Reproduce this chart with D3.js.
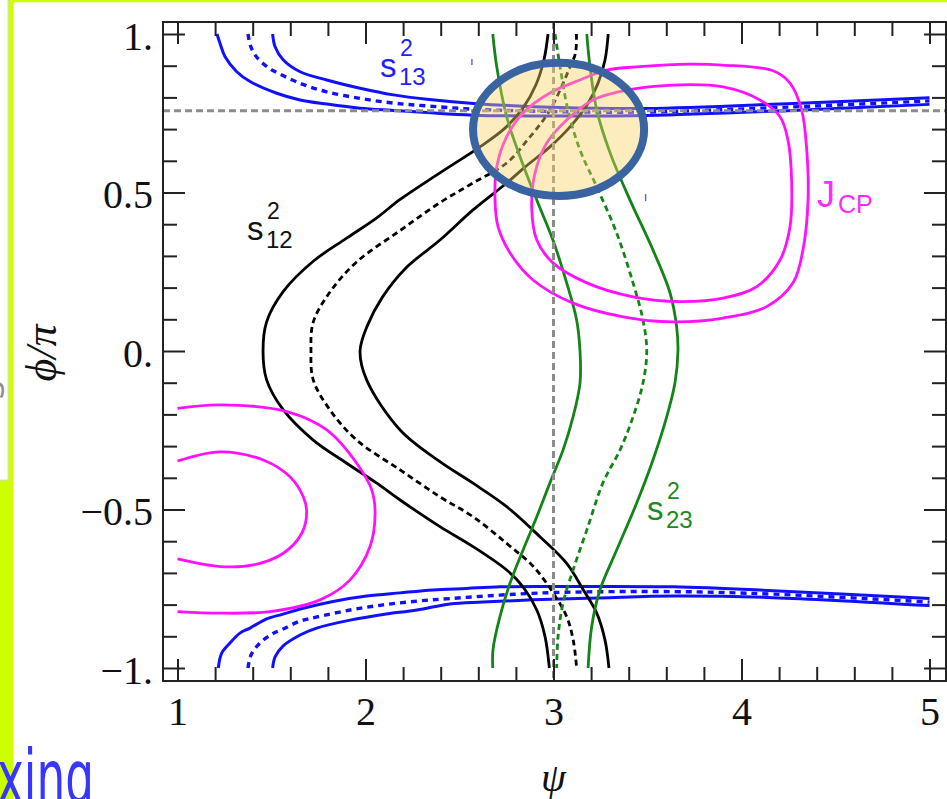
<!DOCTYPE html>
<html>
<head>
<meta charset="utf-8">
<script src="https://cdn.jsdelivr.net/npm/d3@7"></script>
<style>
  html, body { margin: 0; padding: 0; background: #fff; }
  svg { display: block; }
</style>
</head>
<body>
<svg id="chart" width="947" height="799"></svg>
<script>
// ---- axis ticks ----
const psiTicks = [1, 2, 3, 4, 5];
const psiTickLabels = ["1", "2", "3", "4", "5"];
const phiTicks = [-1, -0.5, 0, 0.5, 1];
const phiTickLabels = ["\u22121.", "\u22120.5", "0.", "0.5", "1."];

// reference point (dashed cross-hair)
const refPsi = 3.0;
const refPhi = 0.758;

// highlighted region: centre and half-axes in (psi, phi/pi)
const highlight = { psi: 3.027, phi: 0.699, dpsi: 0.455, dphi: 0.21 };

// ---- s13^2 contours (blue): [psi, phi/pi] ----
const s13TopLow = [[1.21,1.0],[1.226,0.971],[1.253,0.928],[1.315,0.881],[1.386,0.85],[1.528,0.813],[1.652,0.792],[1.795,0.779],[1.971,0.766],[2.146,0.759],[2.326,0.752],[2.572,0.744],[3.035,0.741],[3.497,0.743],[4.274,0.759],[5.0,0.778]];
const s13TopMid = [[1.375,1.0],[1.39,0.96],[1.42,0.928],[1.48,0.895],[1.53,0.878],[1.65,0.845],[1.79,0.818],[1.97,0.797],[2.15,0.782],[2.33,0.773],[2.57,0.763],[3.035,0.755],[3.497,0.754],[4.274,0.77],[5.0,0.789]];
const s13TopHigh = [[1.506,1.0],[1.519,0.96],[1.563,0.918],[1.652,0.881],[1.794,0.855],[1.971,0.829],[2.148,0.808],[2.327,0.794],[2.574,0.781],[3.035,0.768],[3.497,0.765],[4.274,0.781],[5.0,0.799]];
const s13BotHigh = [[1.217,-1.0],[1.235,-0.953],[1.279,-0.921],[1.332,-0.89],[1.386,-0.874],[1.474,-0.845],[1.561,-0.83],[1.652,-0.814],[1.827,-0.79],[2.006,-0.773],[2.184,-0.763],[2.359,-0.754],[2.538,-0.749],[2.715,-0.744],[3.003,-0.743],[3.636,-0.744],[4.168,-0.756],[5.0,-0.781]];
const s13BotMid = [[1.375,-1.0],[1.391,-0.959],[1.439,-0.921],[1.503,-0.893],[1.561,-0.877],[1.652,-0.852],[1.742,-0.839],[1.918,-0.817],[2.093,-0.801],[2.274,-0.789],[2.449,-0.781],[2.715,-0.77],[3.003,-0.762],[3.636,-0.759],[4.168,-0.767],[5.0,-0.792]];
const s13BotLow = [[1.506,-1.0],[1.519,-0.965],[1.561,-0.931],[1.652,-0.896],[1.74,-0.874],[1.918,-0.849],[2.093,-0.831],[2.274,-0.817],[2.449,-0.798],[2.625,-0.792],[2.891,-0.785],[3.247,-0.779],[3.636,-0.773],[4.168,-0.778],[5.0,-0.803]];

// ---- s12^2 contours (black) ----
const s12Outer = [[2.971,1.0],[2.949,0.918],[2.906,0.839],[2.838,0.767],[2.742,0.703],[2.609,0.644],[2.396,0.562],[2.184,0.478],[2.06,0.42],[1.90,0.356],[1.722,0.283],[1.563,0.188],[1.474,0.092],[1.455,0.0],[1.474,-0.091],[1.563,-0.186],[1.722,-0.281],[1.90,-0.354],[2.06,-0.417],[2.184,-0.47],[2.396,-0.554],[2.572,-0.617],[2.751,-0.691],[2.838,-0.744],[2.911,-0.817],[2.955,-0.901],[2.978,-1.0]];
const s12Mid = [[3.122,1.0],[3.117,0.94],[3.088,0.896],[2.981,0.76],[2.862,0.666],[2.751,0.593],[2.572,0.53],[2.396,0.468],[2.184,0.38],[1.953,0.281],[1.811,0.186],[1.722,0.091],[1.71,0.0],[1.722,-0.091],[1.811,-0.186],[1.953,-0.281],[2.184,-0.375],[2.396,-0.46],[2.572,-0.523],[2.751,-0.607],[2.893,-0.68],[2.999,-0.764],[3.07,-0.838],[3.105,-0.912],[3.123,-1.0]];
const s12Inner = [[3.291,1.0],[3.274,0.918],[3.237,0.845],[3.178,0.776],[3.088,0.707],[2.981,0.644],[2.848,0.58],[2.751,0.53],[2.572,0.445],[2.396,0.35],[2.215,0.262],[2.09,0.17],[2.01,0.08],[1.971,0.0],[2.006,-0.091],[2.184,-0.249],[2.396,-0.349],[2.572,-0.417],[2.751,-0.491],[2.928,-0.586],[3.07,-0.67],[3.159,-0.754],[3.23,-0.827],[3.274,-0.912],[3.295,-1.0]];

// ---- s23^2 contours (green) ----
const s23Left = [[2.677,1.0],[2.698,0.897],[2.751,0.739],[2.822,0.613],[2.911,0.476],[2.997,0.35],[3.07,0.215],[3.123,0.098],[3.141,0.0],[3.141,-0.101],[3.104,-0.208],[3.051,-0.312],[2.981,-0.416],[2.911,-0.523],[2.838,-0.628],[2.769,-0.732],[2.715,-0.838],[2.678,-0.943],[2.677,-1.0]];
const s23Mid = [[3.008,1.0],[3.035,0.897],[3.077,0.76],[3.141,0.634],[3.23,0.518],[3.336,0.372],[3.423,0.215],[3.476,0.098],[3.496,0.0],[3.476,-0.101],[3.423,-0.208],[3.354,-0.312],[3.263,-0.416],[3.177,-0.565],[3.104,-0.691],[3.051,-0.795],[3.024,-0.902],[3.017,-1.0]];
const s23Right = [[3.177,1.0],[3.194,0.897],[3.23,0.76],[3.301,0.625],[3.407,0.476],[3.529,0.319],[3.62,0.183],[3.655,0.076],[3.662,0.0],[3.646,-0.101],[3.602,-0.208],[3.529,-0.344],[3.443,-0.479],[3.336,-0.628],[3.247,-0.754],[3.203,-0.87],[3.184,-1.0]];

// ---- J_CP contours (magenta) ----
const jcpRightOuter = [[4.168,0.884],[3.90,0.902],[3.726,0.905],[3.46,0.897],[3.283,0.886],[3.141,0.855],[2.981,0.814],[2.838,0.751],[2.751,0.676],[2.698,0.581],[2.689,0.476],[2.705,0.392],[2.769,0.309],[2.891,0.224],[3.104,0.151],[3.37,0.108],[3.636,0.092],[3.902,0.104],[4.134,0.14],[4.274,0.215],[4.327,0.319],[4.354,0.476],[4.347,0.634],[4.32,0.76],[4.258,0.845]];
const jcpRightInner = [[3.389,0.823],[3.636,0.839],[3.902,0.833],[4.098,0.792],[4.205,0.739],[4.247,0.666],[4.267,0.53],[4.258,0.392],[4.205,0.287],[4.081,0.203],[3.902,0.167],[3.673,0.156],[3.423,0.171],[3.177,0.215],[2.997,0.278],[2.911,0.35],[2.884,0.455],[2.902,0.562],[2.964,0.656],[3.07,0.729],[3.21,0.792]];
const jcpLeftOuter = [[1.0,-0.181],[1.226,-0.17],[1.581,-0.191],[1.794,-0.249],[1.953,-0.354],[2.033,-0.438],[2.051,-0.512],[2.024,-0.617],[1.918,-0.722],[1.758,-0.785],[1.492,-0.822],[1.226,-0.827],[1.0,-0.822]];
const jcpLeftInner = [[1.0,-0.347],[1.226,-0.318],[1.456,-0.344],[1.598,-0.397],[1.669,-0.46],[1.687,-0.507],[1.661,-0.575],[1.563,-0.638],[1.403,-0.675],[1.226,-0.68],[1.0,-0.656]];

// stray tick marks left on the figure
const strayMarks = [[2.566, 0.921, 0.902], [3.490, 0.495, 0.473]];

// ---- layout ----
const svg = d3.select("#chart");
const frame = { l: 163, r: 946, t: 22, b: 681 };
const x = d3.scaleLinear().domain([1, 5]).range([177.5, 929.5]);
const y = d3.scaleLinear().domain([-1, 1]).range([668, 34]);

const col = { blue: "#1010ff", black: "#000", green: "#148418", magenta: "#ff10ff", gray: "#8c8c8c" };

// slide decoration around the figure
svg.append("rect").attr("x", 0).attr("y", 0).attr("width", 947).attr("height", 799).attr("fill", "#fff");
svg.append("rect").attr("x", 8).attr("y", 0).attr("width", 939).attr("height", 2.2).attr("fill", "#ccff00");
svg.append("rect").attr("x", 0).attr("y", 0).attr("width", 13.5).attr("height", 799).attr("fill", "#ccff00");
svg.append("clipPath").attr("id", "boxclip").append("rect").attr("x", 0).attr("y", 0).attr("width", 8).attr("height", 480);
svg.append("rect").attr("x", -1).attr("y", -1).attr("width", 9).attr("height", 481)
  .attr("fill", "#fff").attr("stroke", "#d8d8d8").attr("stroke-width", 1);
svg.append("g").attr("clip-path", "url(#boxclip)")
  .append("text").attr("transform", "translate(4,390) rotate(-90)")
  .attr("text-anchor", "middle").attr("font-family", "DejaVu Sans").attr("font-size", 30)
  .attr("fill", "#8c8c8c").text("S");
svg.append("text").attr("x", -3).attr("y", 803)
  .attr("font-family", "DejaVu Sans").attr("font-size", 74)
  .attr("textLength", 97).attr("lengthAdjust", "spacingAndGlyphs")
  .attr("fill", "#3636ff").text("xing");

// ---- plot ----
const defs = svg.append("defs");
defs.append("clipPath").attr("id", "plotclip").append("rect")
  .attr("x", frame.l).attr("y", frame.t).attr("width", frame.r - frame.l).attr("height", frame.b - frame.t);

const plot = svg.append("g").attr("clip-path", "url(#plotclip)");

const path = d3.line().x(d => x(d[0])).y(d => y(d[1])).curve(d3.curveCatmullRom.alpha(0.5));
const loop = d3.line().x(d => x(d[0])).y(d => y(d[1])).curve(d3.curveCatmullRomClosed.alpha(0.5));

function draw(data, gen, color, dash, width) {
  plot.append("path").attr("d", gen(data)).attr("fill", "none")
    .attr("stroke", color).attr("stroke-width", width || 2.8)
    .attr("stroke-dasharray", dash || null)
    .attr("stroke-linejoin", "round");
}

[[s13TopLow, null, 3], [s13TopMid, "6,5", 3.4], [s13TopHigh, null, 3],
 [s13BotHigh, null, 3], [s13BotMid, "6,5", 3.4], [s13BotLow, null, 3]]
  .forEach(([d, dash, w]) => draw(d, path, col.blue, dash, w));

[[s12Outer, null], [s12Mid, "6,4"], [s12Inner, null]]
  .forEach(([d, dash]) => draw(d, path, col.black, dash, 2.8));

[[s23Left, null], [s23Mid, "6,4"], [s23Right, null]]
  .forEach(([d, dash]) => draw(d, path, col.green, dash, 2.8));

[jcpRightOuter, jcpRightInner].forEach(d => draw(d, loop, col.magenta, null, 2.8));
[jcpLeftOuter, jcpLeftInner].forEach(d => draw(d, path, col.magenta, null, 2.8));

plot.selectAll("line.stray").data(strayMarks).join("line").attr("class", "stray")
  .attr("x1", d => x(d[0])).attr("x2", d => x(d[0]))
  .attr("y1", d => y(d[1])).attr("y2", d => y(d[2]))
  .attr("stroke", "#4a66e0").attr("stroke-width", 1.4);

// dashed reference lines
plot.append("line").attr("x1", x(refPsi)).attr("x2", x(refPsi)).attr("y1", frame.t).attr("y2", frame.b)
  .attr("stroke", col.gray).attr("stroke-width", 3).attr("stroke-dasharray", "7,4");
plot.append("line").attr("x1", frame.l).attr("x2", frame.r).attr("y1", y(refPhi)).attr("y2", y(refPhi))
  .attr("stroke", col.gray).attr("stroke-width", 3).attr("stroke-dasharray", "7,4");

// highlighted region
svg.append("ellipse")
  .attr("cx", x(highlight.psi)).attr("cy", y(highlight.phi))
  .attr("rx", x(highlight.psi + highlight.dpsi) - x(highlight.psi))
  .attr("ry", y(highlight.phi - highlight.dphi) - y(highlight.phi))
  .attr("fill", "rgb(247,210,100)").attr("fill-opacity", 0.42)
  .attr("stroke", "#3a63a1").attr("stroke-width", 8);

// ---- frame and axes ----
function tidy(g) {
  g.select(".domain").remove();
  g.selectAll(".tick line").attr("stroke", "#222").attr("stroke-width", 2);
  g.attr("font-family", "Liberation Serif").attr("font-size", 40).attr("color", "#111");
}
const psiMinor = x.ticks(20).filter(d => !psiTicks.includes(d));
const phiMinor = y.ticks(20).filter(d => !phiTicks.some(t => Math.abs(t - d) < 1e-9));

svg.append("g").attr("transform", `translate(0,${frame.b})`)
  .call(d3.axisBottom(x).tickValues(psiTicks).tickFormat((d, i) => psiTickLabels[i]).tickSize(-22).tickPadding(15.5))
  .call(tidy);
svg.append("g").attr("transform", `translate(0,${frame.b})`)
  .call(d3.axisBottom(x).tickValues(psiMinor).tickFormat("").tickSize(-14)).call(tidy);
svg.append("g").attr("transform", `translate(0,${frame.t})`)
  .call(d3.axisTop(x).tickValues(psiTicks).tickFormat("").tickSize(-22)).call(tidy);
svg.append("g").attr("transform", `translate(0,${frame.t})`)
  .call(d3.axisTop(x).tickValues(psiMinor).tickFormat("").tickSize(-14)).call(tidy);

const left = svg.append("g").attr("transform", `translate(${frame.l},0)`)
  .call(d3.axisLeft(y).tickValues(phiTicks).tickFormat((d, i) => phiTickLabels[i]).tickSize(-22).tickPadding(10))
  .call(tidy);
left.selectAll(".tick text").attr("dy", "0.38em");
svg.append("g").attr("transform", `translate(${frame.l},0)`)
  .call(d3.axisLeft(y).tickValues(phiMinor).tickFormat("").tickSize(-14)).call(tidy);
svg.append("g").attr("transform", `translate(${frame.r},0)`)
  .call(d3.axisRight(y).tickValues(phiTicks).tickFormat("").tickSize(-22)).call(tidy);
svg.append("g").attr("transform", `translate(${frame.r},0)`)
  .call(d3.axisRight(y).tickValues(phiMinor).tickFormat("").tickSize(-14)).call(tidy);

svg.append("rect").attr("x", frame.l).attr("y", frame.t)
  .attr("width", frame.r - frame.l).attr("height", frame.b - frame.t)
  .attr("fill", "none").attr("stroke", "#222").attr("stroke-width", 2);

// axis titles
svg.append("text").attr("x", x(3)).attr("y", 791).attr("text-anchor", "middle")
  .attr("font-family", "Liberation Serif").attr("font-style", "italic").attr("font-size", 40)
  .attr("fill", "#111").text("\u03C8");
svg.append("text").attr("transform", `translate(56,${y(0) + 2}) rotate(-90)`).attr("text-anchor", "middle")
  .attr("font-family", "Liberation Serif").attr("font-style", "italic").attr("font-size", 44)
  .attr("fill", "#111").text("\u03D5/\u03C0");

// contour labels
function label(px, py, color, base, sup, sub) {
  const g = svg.append("g").attr("font-family", "Liberation Sans").attr("fill", color);
  g.append("text").attr("x", px).attr("y", py).attr("font-size", 33).text(base);
  if (sup) g.append("text").attr("x", px + 20).attr("y", py - 21).attr("font-size", 23).text(sup);
  if (sub) g.append("text").attr("x", px + 19).attr("y", py + 8).attr("font-size", 24).text(sub);
}
label(380, 77, "#1e1eff", "s", "2", "13");
label(247, 240, "#111", "s", "2", "12");
label(647, 520, "#1c8a1e", "s", "2", "23");
const jl = svg.append("g").attr("font-family", "Liberation Sans").attr("fill", "#ff2aff");
jl.append("text").attr("x", 817).attr("y", 207).attr("font-size", 36).text("J");
jl.append("text").attr("x", 838).attr("y", 213).attr("font-size", 25).text("CP");
</script>
</body>
</html>
